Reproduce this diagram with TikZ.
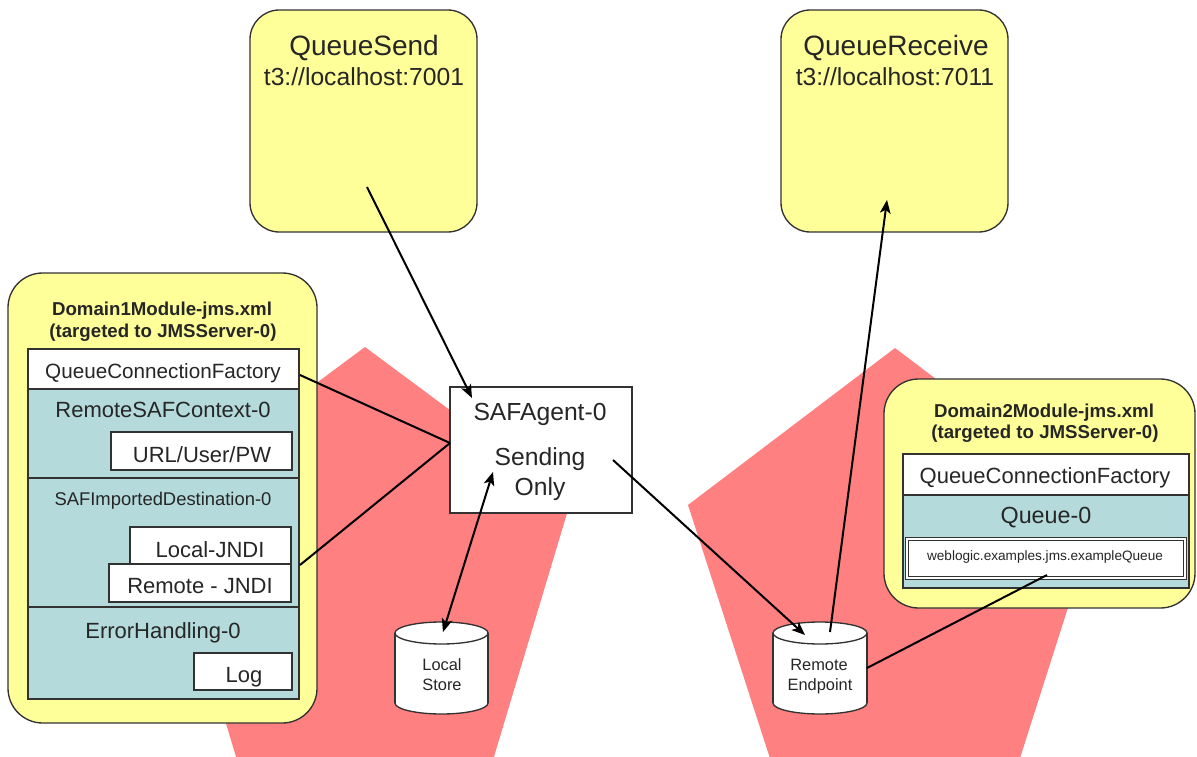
\documentclass[tikz,border=0pt]{standalone}
\usepackage{fontspec}
\setmainfont{Liberation Sans}
\usetikzlibrary{arrows.meta,fit}
\definecolor{padyellow}{RGB}{255,255,153}
\definecolor{padred}{RGB}{255,128,128}
\definecolor{padblue}{RGB}{180,218,220}
\definecolor{edgegray}{RGB}{50,50,50}
\begin{document}
\begin{tikzpicture}[x=0.75pt,y=-0.75pt,
  ybox/.style={draw=edgegray, line width=1pt, fill=padyellow, rounded corners=22pt, inner sep=0pt},
  wbox/.style={draw=edgegray, line width=1pt, fill=white, inner sep=0pt},
  bbox/.style={draw=edgegray, line width=1pt, fill=padblue, inner sep=0pt},
  cylline/.style={draw=edgegray, line width=1pt},
  conn/.style={line width=1.5pt, draw=black},
  arr/.style={conn, -{Stealth[length=10pt,width=8pt,inset=2.5pt]}},
  darr/.style={conn, {Stealth[length=10pt,width=8pt,inset=2.5pt]}-{Stealth[length=10pt,width=8pt,inset=2.5pt]}},
  lbl/.style={inner sep=0pt, text=black!85, anchor=base},
  big/.style={font=\fontsize{21}{24}\selectfont},
  url/.style={font=\fontsize{18.5}{22}\selectfont},
  mid/.style={font=\fontsize{16.5}{19}\selectfont},
  qcf/.style={font=\fontsize{15.5}{18}\selectfont},
  ttl/.style={font=\bfseries\fontsize{14}{17}\selectfont},
  sml/.style={font=\fontsize{13.8}{16}\selectfont},
  tiny/.style={font=\fontsize{10.2}{12}\selectfont},
  cyl/.style={font=\fontsize{12.3}{14}\selectfont},
]
\useasboundingbox (0,0) rectangle (1197,757);
\fill[white] (0,0) rectangle (1197,757);

% red pentagons
\begin{scope}
\clip (0,0) rectangle (1197,757);
\fill[padred] (365,347) -- (571,500) -- (487,780) -- (243,780) -- (159,500) -- cycle;
\fill[padred] (895,348) -- (1101,504) -- (1013,780) -- (777,780) -- (688,505) -- cycle;
\end{scope}

% top yellow boxes
\node[ybox, fit={(250,10)(477,232)}] (qsend) {};
\node[ybox, fit={(781,10)(1008,232)}] (qrecv) {};
\node[lbl, big] (qsend-name) at (364,55) {QueueSend};
\node[lbl, url] (qsend-url) at (364,85) {t3://localhost:7001};
\node[lbl, big] (qrecv-name) at (896,55) {QueueReceive};
\node[lbl, url] (qrecv-url) at (895,85) {t3://localhost:7011};

% Domain1 module
\node[ybox, rounded corners=26pt, fit={(8,273)(317,723)}] (dom1) {};
\node[lbl, ttl] (dom1-t1) at (162,315) {Domain1Module-jms.xml};
\node[lbl, ttl] (dom1-t2) at (163,337) {(targeted to JMSServer-0)};
\node[wbox, fit={(28,349)(299,389)}] (d1-qcf) {};
\node[bbox, fit={(28,389)(299,478)}] (d1-rsc) {};
\node[bbox, fit={(28,478)(299,607)}] (d1-sid) {};
\node[bbox, fit={(28,607)(299,699)}] (d1-err) {};
\node[wbox, fit={(111,432)(292,470)}] (d1-url) {};
\node[wbox, fit={(130,527)(291,564)}] (d1-local) {};
\node[wbox, fit={(109,564)(291,602)}] (d1-remote) {};
\node[wbox, fit={(194,653)(292,690)}] (d1-log) {};
\node[lbl, qcf] (d1-qcf-t) at (163,378) {QueueConnectionFactory};
\node[lbl, mid] (d1-rsc-t) at (163,417) {RemoteSAFContext-0};
\node[lbl, mid] (d1-url-t) at (202,462) {URL/User/PW};
\node[lbl, sml] (d1-sid-t) at (163,505) {SAFImportedDestination-0};
\node[lbl, mid] (d1-local-t) at (210,557) {Local-JNDI};
\node[lbl, mid] (d1-remote-t) at (200,593) {Remote - JNDI};
\node[lbl, mid] (d1-err-t) at (163,638) {ErrorHandling-0};
\node[lbl, mid] (d1-log-t) at (244,682) {Log};

% Domain2 module
\node[ybox, rounded corners=26pt, fit={(884,379)(1195,608)}] (dom2) {};
\node[lbl, ttl] (dom2-t1) at (1044,417) {Domain2Module-jms.xml};
\node[lbl, ttl] (dom2-t2) at (1045,438) {(targeted to JMSServer-0)};
\node[wbox, fit={(903,454)(1189,495)}] (d2-qcf) {};
\node[bbox, fit={(903,495)(1189,588)}] (d2-queue) {};
\node[wbox, double=white, double distance=1.6pt, line width=0.8pt, fit={(907,539)(1185,578)}] (d2-jndi) {};
\node[lbl, mid] (d2-qcf-t) at (1045,483) {QueueConnectionFactory};
\node[lbl, font=\fontsize{17.5}{20}\selectfont] (d2-queue-t) at (1046,523) {Queue-0};
\node[lbl, tiny] (d2-jndi-t) at (1045,560) {weblogic.examples.jms.exampleQueue};

% SAF agent
\node[wbox, fit={(450,387)(632,513)}] (saf) {};
\node[lbl, url] (saf-t1) at (540,420) {SAFAgent-0};
\node[lbl, url] (saf-t2) at (540,465) {Sending};
\node[lbl, url] (saf-t3) at (540,495) {Only};

% Local Store cylinder
\fill[white] (395,633) rectangle (488,703);
\fill[white] (441.5,703) ellipse[x radius=34.9pt, y radius=8.25pt];
\draw[cylline] (395,633) -- (395,703) (488,633) -- (488,703);
\begin{scope}\clip (380,703) rectangle (500,725);
\draw[cylline] (441.5,703) ellipse[x radius=34.9pt, y radius=8.25pt];
\end{scope}
\draw[cylline, fill=white] (441.5,633) ellipse[x radius=34.9pt, y radius=8.25pt];
\node[fit={(395,622)(488,714)}, inner sep=0pt] (lstore) {};
\node[lbl, cyl] (lstore-t1) at (442,670) {Local};
\node[lbl, cyl] (lstore-t2) at (442,690) {Store};

% Remote Endpoint cylinder
\fill[white] (773,633) rectangle (867,703);
\fill[white] (820,703) ellipse[x radius=35.25pt, y radius=8.25pt];
\draw[cylline] (773,633) -- (773,703) (867,633) -- (867,703);
\begin{scope}\clip (760,703) rectangle (880,725);
\draw[cylline] (820,703) ellipse[x radius=35.25pt, y radius=8.25pt];
\end{scope}
\draw[cylline, fill=white] (820,633) ellipse[x radius=35.25pt, y radius=8.25pt];
\node[fit={(773,622)(867,714)}, inner sep=0pt] (rend) {};
\node[lbl, cyl] (rend-t1) at (819,670) {Remote};
\node[lbl, cyl] (rend-t2) at (820,690) {Endpoint};

% connector end points
\coordinate (qsend-out) at (367,187);
\coordinate (saf-in) at (472,398);
\coordinate (d1-qcf-out) at (300,375);
\coordinate (d1-remote-out) at (300,565);
\coordinate (saf-left) at (450,443);
\coordinate (lstore-top) at (443,632);
\coordinate (saf-store) at (493,472);
\coordinate (saf-out) at (613,460);
\coordinate (rend-in) at (805,635);
\coordinate (rend-out) at (830,632);
\coordinate (qrecv-in) at (887,200);
\coordinate (rend-right) at (867,668);
\coordinate (d2-jndi-out) at (1047,575);

% connectors
\draw[arr] (qsend-out) -- (saf-in);
\draw[conn] (d1-qcf-out) -- (saf-left);
\draw[conn] (d1-remote-out) -- (saf-left);
\draw[darr] (lstore-top) -- (saf-store);
\draw[arr] (saf-out) -- (rend-in);
\draw[arr] (rend-out) -- (qrecv-in);
\draw[conn] (rend-right) -- (d2-jndi-out);
\end{tikzpicture}
\end{document}
